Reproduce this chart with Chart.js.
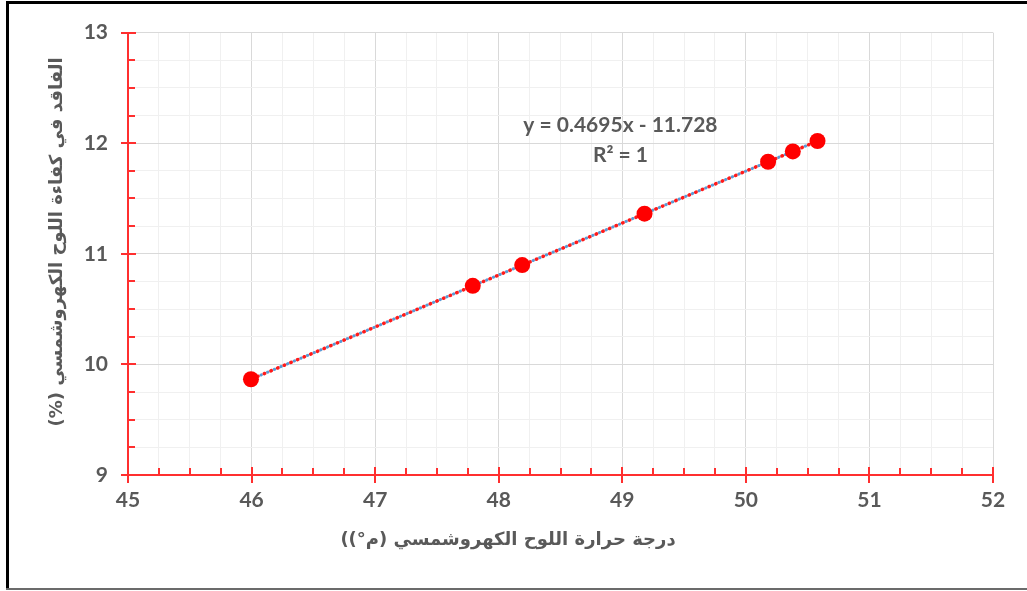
<!DOCTYPE html>
<html>
<head>
<meta charset="utf-8">
<script src="https://cdn.jsdelivr.net/npm/chart.js@4.4.1/dist/chart.umd.min.js"></script>
<style>
  html, body { margin: 0; padding: 0; background: #fff; }
  #wrap { position: relative; width: 1027px; height: 591px; overflow: hidden; }
  #c { position: absolute; left: 0; top: 0; }
  .frameTop { position: absolute; left: 6px; top: 1px; width: 1021px; height: 3px; background: #000; }
  .frameLeft { position: absolute; left: 6px; top: 1px; width: 3px; height: 589px; background: #000; }
  .frameBottom { position: absolute; left: 6px; top: 588px; width: 1021px; height: 2px; background: #6b6b6b; }
</style>
</head>
<body>
<div id="wrap">
  <canvas id="c" width="1027" height="591"></canvas>
  <div class="frameTop"></div>
  <div class="frameLeft"></div>
  <div class="frameBottom"></div>
</div>
<script>
// ---- data ----
const panelTemp = [45.995, 47.79, 48.19, 49.18, 50.18, 50.38, 50.58];      // x values (°C)
const efficiencyLoss = [9.866, 10.71, 10.898, 11.363, 11.832, 11.926, 12.02]; // y values (%)
const trendX = [45.995, 50.58];
const trendY = [9.866, 12.02];
const xTickValues = [45, 46, 47, 48, 49, 50, 51, 52];
const yTickValues = [9, 10, 11, 12, 13];
const xTitle = 'درجة حرارة اللوح الكهروشمسي (م°))';
const yTitle = 'الفاقد في كفاءة اللوح الكهروشمسي (%)';
const equationText = 'y = 0.4695x - 11.728';
const r2Text = 'R² = 1';
const equationAnchor = { x: 48.985, y: 12.16 };
const r2Anchor = { x: 48.985, y: 11.895 };

const pts = panelTemp.map((x, i) => ({ x, y: efficiencyLoss[i] }));
const trendPts = trendX.map((x, i) => ({ x, y: trendY[i] }));

const RED = '#ff2f2f';
const GREY = '#595959';
const TICK_FONT = 'Lato, "DejaVu Sans", sans-serif';
const isMajor = v => Math.abs(v - Math.round(v)) < 1e-9;

const axisTickPlugin = {
  id: 'axisTicks',
  afterDatasetsDraw(chart) {
    const ctx = chart.ctx;
    const xs = chart.scales.x, ys = chart.scales.y;
    const axisY = ys.getPixelForValue(ys.min);
    const axisX = xs.getPixelForValue(xs.min);
    ctx.save();
    ctx.strokeStyle = RED;
    ctx.lineWidth = 2;
    ctx.beginPath();
    xs.ticks.forEach(t => {
      const px = Math.round(xs.getPixelForValue(t.value));
      if (isMajor(t.value)) { ctx.moveTo(px, axisY - 8); ctx.lineTo(px, axisY + 8); }
      else { ctx.moveTo(px, axisY - 7); ctx.lineTo(px, axisY); }
    });
    ys.ticks.forEach(t => {
      const py = Math.round(ys.getPixelForValue(t.value));
      if (isMajor(t.value)) { ctx.moveTo(axisX - 7, py); ctx.lineTo(axisX + 8, py); }
      else { ctx.moveTo(axisX, py); ctx.lineTo(axisX + 7, py); }
    });
    ctx.stroke();
    ctx.restore();
  },
  afterDraw(chart) {
    const ctx = chart.ctx;
    const xs = chart.scales.x, ys = chart.scales.y;
    ctx.save();
    ctx.fillStyle = GREY;
    ctx.textAlign = 'center';
    ctx.textBaseline = 'middle';
    // trendline equation
    ctx.direction = 'ltr';
    ctx.font = 'bold 21px ' + TICK_FONT;
    ctx.fillText(equationText, xs.getPixelForValue(equationAnchor.x), ys.getPixelForValue(equationAnchor.y));
    ctx.fillText(r2Text, xs.getPixelForValue(r2Anchor.x), ys.getPixelForValue(r2Anchor.y));
    // axis titles (Arabic, RTL)
    ctx.direction = 'rtl';
    ctx.font = 'bold 18px "DejaVu Sans", sans-serif';
    ctx.fillText(xTitle, 508, 540);
    ctx.translate(57, 242);
    ctx.rotate(-Math.PI / 2);
    ctx.fillText(yTitle, 0, 0);
    ctx.restore();
  }
};

new Chart(document.getElementById('c'), {
  type: 'scatter',
  data: {
    datasets: [
      {
        label: 'data',
        data: pts,
        showLine: false,
        pointRadius: 8,
        pointHoverRadius: 8,
        pointBackgroundColor: '#ff0000',
        pointBorderColor: '#ff0000',
        pointBorderWidth: 0,
        order: 0
      },
      {
        label: 'trend',
        data: trendPts,
        showLine: true,
        pointRadius: 0,
        borderColor: '#ff1a1a',
        borderWidth: 3.5,
        borderCapStyle: 'round',
        borderDash: [0.5, 6.7],
        borderDashOffset: 0,
        order: 1
      },
      {
        label: 'line',
        data: pts,
        showLine: true,
        pointRadius: 0,
        borderColor: '#5b9bd5',
        borderWidth: 3,
        borderCapStyle: 'round',
        borderDash: [0.5, 6.7],
        borderDashOffset: 3.6,
        order: 2
      }
    ]
  },
  options: {
    responsive: false,
    animation: false,
    devicePixelRatio: 1,
    layout: { padding: { top: 30, right: 34, left: 0, bottom: 0 } },
    plugins: { legend: { display: false }, tooltip: { enabled: false } },
    scales: {
      x: {
        type: 'linear',
        min: 45, max: 52,
        afterFit(s) { s.height = 116; },
        afterBuildTicks(s) {
          const arr = [];
          for (let i = 0; i <= (s.max - s.min) * 4; i++) arr.push({ value: s.min + i * 0.25 });
          s.ticks = arr;
        },
        ticks: {
          autoSkip: false,
          maxRotation: 0,
          padding: 13,
          color: GREY,
          font: { family: TICK_FONT, size: 21, weight: 'bold' },
          callback: v => (xTickValues.includes(v) ? String(v) : '')
        },
        grid: {
          drawTicks: false,
          lineWidth: 1,
          color: c => (c.tick && isMajor(c.tick.value) ? '#d9d9d9' : '#f0f0f0')
        },
        border: { display: true, color: RED, width: 2 }
      },
      y: {
        type: 'linear',
        min: 9, max: 13,
        afterFit(s) { s.width = 128; },
        afterBuildTicks(s) {
          const arr = [];
          for (let i = 0; i <= (s.max - s.min) * 4; i++) arr.push({ value: s.min + i * 0.25 });
          s.ticks = arr;
        },
        ticks: {
          autoSkip: false,
          padding: 20,
          color: GREY,
          font: { family: TICK_FONT, size: 21, weight: 'bold' },
          callback: v => (yTickValues.includes(v) ? String(v) : '')
        },
        grid: {
          drawTicks: false,
          lineWidth: 1,
          color: c => (c.tick && isMajor(c.tick.value) ? '#d9d9d9' : '#f0f0f0')
        },
        border: { display: true, color: RED, width: 2 }
      }
    }
  },
  plugins: [axisTickPlugin]
});
</script>
</body>
</html>
